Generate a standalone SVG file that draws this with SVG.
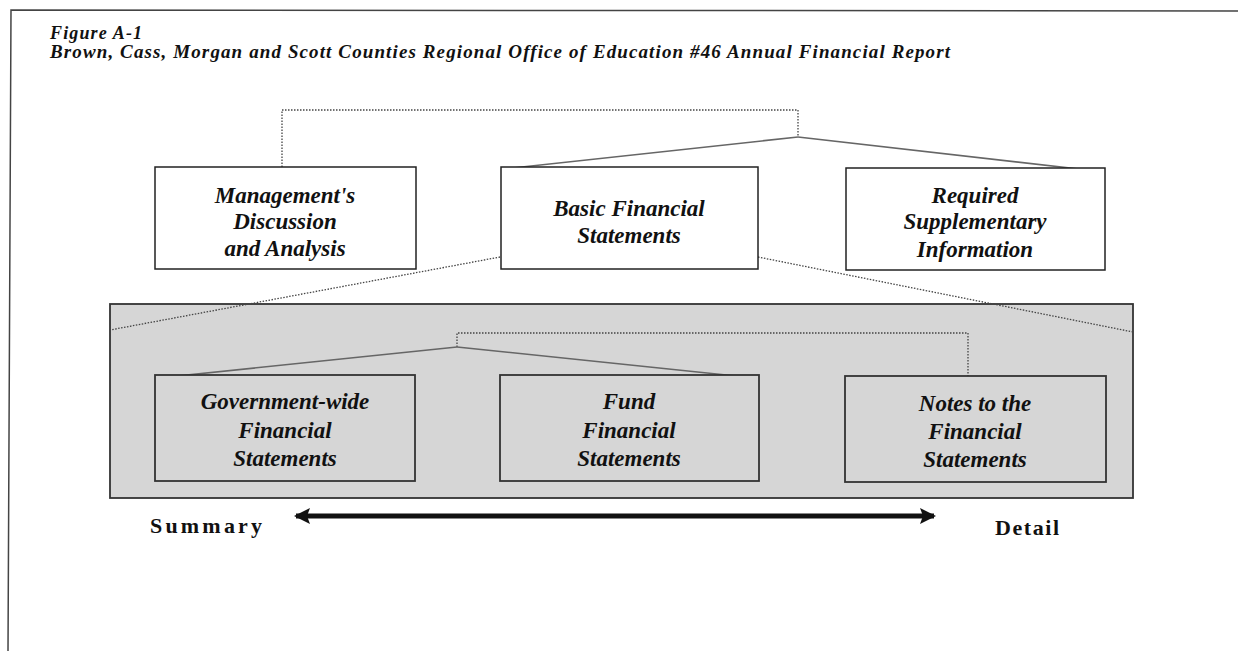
<svg xmlns="http://www.w3.org/2000/svg" width="1238" height="651" viewBox="0 0 1238 651">
<style>
.t{font-family:"Liberation Serif","Times New Roman",serif;font-weight:bold;font-style:italic;fill:#111}
.nt{font-size:23px;text-anchor:middle}
.box{fill:#fff;stroke:#222;stroke-width:1.5}
.gbox{fill:#d6d6d6;stroke:#333;stroke-width:1.8}
.dot{fill:none;stroke:#444;stroke-width:1.3;stroke-dasharray:1.5 1.5}
.sol{fill:none;stroke:#666;stroke-width:1.6}
.lbl{font-family:"Liberation Serif","Times New Roman",serif;font-weight:bold;font-size:22px;fill:#111}
</style>
<defs>
<marker id="ah" markerUnits="userSpaceOnUse" markerWidth="18" markerHeight="18" refX="14" refY="8" orient="auto-start-reverse">
<path d="M0,0 L16,8 L0,16 L3,8 Z" fill="#111"/>
</marker>
</defs>
<rect x="0" y="0" width="1238" height="651" fill="#fff"/>
<g id="frame">
<polyline points="1238,11 11,10 8,651" fill="none" stroke="#444" stroke-width="1.5"/>
</g>
<g id="title">
<text class="t" x="50" y="39" font-size="18" textLength="92" lengthAdjust="spacing">Figure A-1</text>
<text class="t" x="50" y="58" font-size="19" textLength="900" lengthAdjust="spacing">Brown, Cass, Morgan and Scott Counties Regional Office of Education #46 Annual Financial Report</text>
</g>
<g id="panel">
<rect class="gbox" x="110" y="304" width="1023" height="194"/>
</g>
<g id="connectors">
<polyline class="dot" points="282,176 282,110 798,110 798,137"/>
<line class="sol" x1="798" y1="137" x2="503" y2="169"/>
<line class="sol" x1="798" y1="137" x2="1105" y2="172"/>
<line class="dot" x1="500" y1="257" x2="110" y2="330"/>
<line class="dot" x1="758" y1="257" x2="1133" y2="332"/>
<polyline class="dot" points="457,347 457,333 968,333 968,383"/>
<line class="sol" x1="457" y1="347" x2="158" y2="378"/>
<line class="sol" x1="457" y1="347" x2="755" y2="378"/>
</g>
<g id="mda">
<rect class="box" x="155" y="167" width="261" height="102"/>
<text class="t nt" x="285" y="203">Management's</text>
<text class="t nt" x="285" y="229">Discussion</text>
<text class="t nt" x="285" y="256">and Analysis</text>
</g>
<g id="basic">
<rect class="box" x="501" y="167" width="257" height="102"/>
<text class="t nt" x="629" y="216">Basic Financial</text>
<text class="t nt" x="629" y="243">Statements</text>
</g>
<g id="rsi">
<rect class="box" x="846" y="168" width="259" height="102"/>
<text class="t nt" x="975" y="203">Required</text>
<text class="t nt" x="975" y="229">Supplementary</text>
<text class="t nt" x="975" y="257">Information</text>
</g>
<g id="govwide">
<rect class="gbox" x="155" y="375" width="260" height="106"/>
<text class="t nt" x="285" y="409">Government-wide</text>
<text class="t nt" x="285" y="438">Financial</text>
<text class="t nt" x="285" y="466">Statements</text>
</g>
<g id="fund">
<rect class="gbox" x="500" y="375" width="259" height="106"/>
<text class="t nt" x="629" y="409">Fund</text>
<text class="t nt" x="629" y="438">Financial</text>
<text class="t nt" x="629" y="466">Statements</text>
</g>
<g id="notes">
<rect class="gbox" x="845" y="376" width="261" height="106"/>
<text class="t nt" x="975" y="411">Notes to the</text>
<text class="t nt" x="975" y="439">Financial</text>
<text class="t nt" x="975" y="467">Statements</text>
</g>
<g id="scale">
<line x1="296" y1="516" x2="934" y2="516" stroke="#111" stroke-width="5" marker-start="url(#ah)" marker-end="url(#ah)"/>
<text class="lbl" x="150" y="533" textLength="112" lengthAdjust="spacing">Summary</text>
<text class="lbl" x="995" y="535" textLength="64" lengthAdjust="spacing">Detail</text>
</g>
</svg>
